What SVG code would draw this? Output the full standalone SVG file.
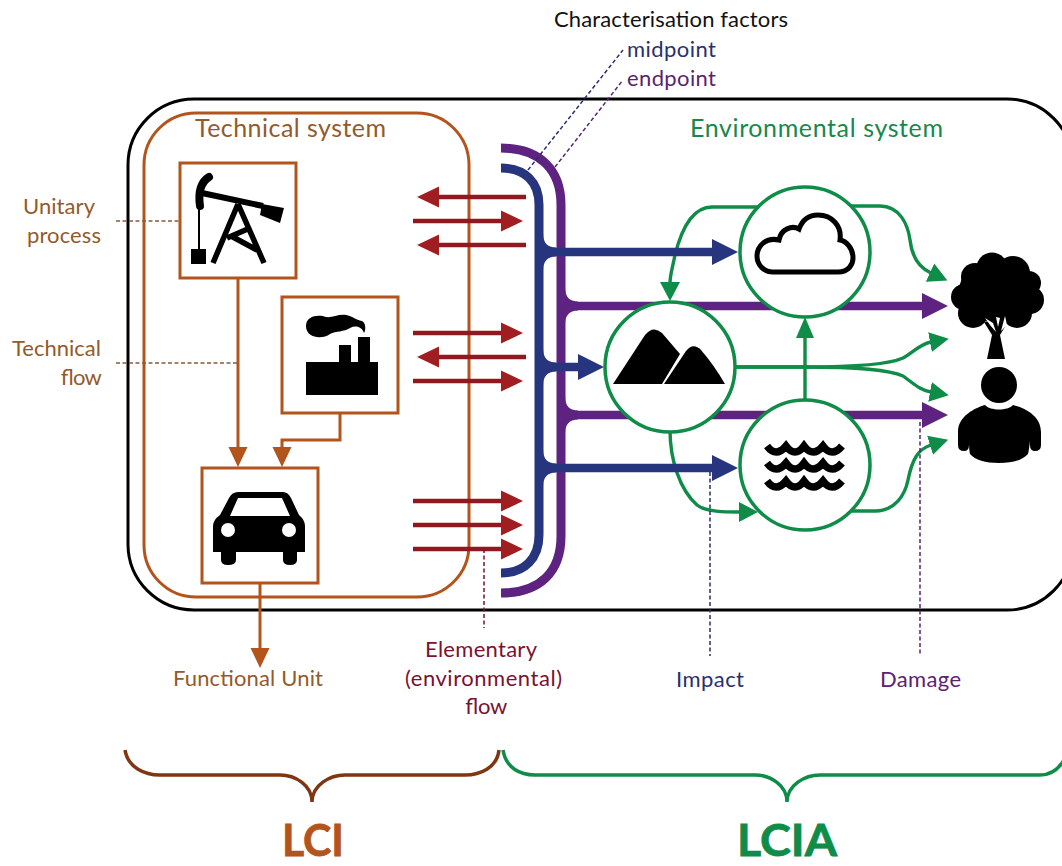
<svg xmlns="http://www.w3.org/2000/svg" xmlns:xlink="http://www.w3.org/1999/xlink" width="1062" height="866" viewBox="0 0 1062 866">
<style>
text{font-family:"Lato","Open Sans","Liberation Sans",sans-serif;font-size:22px}
.or{fill:none;stroke:#b4541d;stroke-width:3}
.box{fill:#fff;stroke:#b4541d;stroke-width:3}
.circ{fill:#fff;stroke:#0e8c48;stroke-width:3.5}
.g{fill:none;stroke:#0e8c48;stroke-width:3.4;marker-end:url(#mg)}
.r{fill:none;stroke:#8e1a20;stroke-width:4.5;marker-end:url(#mr)}
.b{fill:none;stroke:#27357f;stroke-width:8.5;marker-end:url(#mb)}
.p{fill:none;stroke:#5e2280;stroke-width:8.5;marker-end:url(#mp)}
.d{fill:none;stroke-width:1.5;stroke-dasharray:4 2.5}
.tb{fill:#935a2c}.tg{fill:#15894b}.tn{fill:#28306f}.tp{fill:#5a2370}.tr{fill:#7a1230}
</style>
<defs>
<marker id="mr" markerUnits="userSpaceOnUse" markerWidth="24" markerHeight="24" refX="1" refY="12" orient="auto"><path d="M0 1.5L22 12L0 22.5Z" fill="#a01d20"/></marker>
<marker id="mb" markerUnits="userSpaceOnUse" markerWidth="28" markerHeight="28" refX="1" refY="14" orient="auto"><path d="M0 1L26 14L0 27Z" fill="#27357f"/></marker>
<marker id="mp" markerUnits="userSpaceOnUse" markerWidth="28" markerHeight="28" refX="1" refY="14" orient="auto"><path d="M0 1L26 14L0 27Z" fill="#5e2280"/></marker>
<marker id="mg" markerUnits="userSpaceOnUse" markerWidth="22" markerHeight="22" refX="1" refY="11" orient="auto"><path d="M0 1L19 11L0 21Z" fill="#0e8c48"/></marker>
<marker id="mo" markerUnits="userSpaceOnUse" markerWidth="22" markerHeight="22" refX="1" refY="11" orient="auto"><path d="M0 1.5L20 11L0 20.5Z" fill="#b4541d"/></marker>
<path id="fil" d="M0 -19Q0 -4.5 13 -4.5V4.5Q0 4.5 0 19Z"/>
<path id="wave" d="M767 446Q776 458 786 446Q795 458 804 446Q813 458 823 446Q832 458 842 446" fill="none" stroke="#000" stroke-width="7.5"/>
</defs>
<rect width="1062" height="866" fill="#fff"/>
<g id="environmental-boundary">
<rect x="128" y="99" width="945" height="511" rx="66" fill="#fff" stroke="#000" stroke-width="3"/>
</g>
<g id="technical-system">
<rect class="or" x="144" y="113" width="325" height="484" rx="52"/>
<text x="195" y="137" class="tb" textLength="191" style="font-size:25px">Technical system</text>
</g>
<g id="connectors">
<path class="p" d="M561 306H923"/>
<path class="p" d="M561 415H923"/>
<path d="M501 148C540 148 561 170 561 205V536C561 572 540 593 501 593" fill="none" stroke="#5e2280" stroke-width="9"/>
<use xlink:href="#fil" x="565" y="306" fill="#5e2280"/>
<use xlink:href="#fil" x="565" y="415" fill="#5e2280"/>
<path class="g" d="M760 207H712C690 207 680 235 675 255C672 270 670 275 670 283"/>
<path class="g" d="M670 430C670 460 680 490 697 505C706 512 725 512 740 512"/>
<path d="M805 402V338" fill="none" stroke="#0e8c48" stroke-width="3.4"/>
<path d="M805 317L814 338H796Z" fill="#0e8c48"/>
<path class="g" d="M850 206H880C900 206 908 225 910 240C912 258 920 268 931 273"/>
<path class="g" d="M733 367H805C860 367 890 364 903 358C914 352 920 344 931 342"/>
<path class="g" d="M733 367H805C860 367 890 370 903 376C914 384 920 390 931 392"/>
<path class="g" d="M849 511H875C895 511 905 495 908 480C912 460 918 449 931 445"/>
<path d="M501 168C525 168 539 182 539 205V535C539 558 525 573 501 573" fill="none" stroke="#27357f" stroke-width="9"/>
<path class="b" d="M539 252H713"/>
<path class="b" d="M539 367H579"/>
<path class="b" d="M539 468H713"/>
<use xlink:href="#fil" x="543" y="252" fill="#27357f"/>
<use xlink:href="#fil" x="543" y="367" fill="#27357f"/>
<use xlink:href="#fil" x="543" y="468" fill="#27357f"/>
<path class="r" d="M526 197H438"/>
<path class="r" d="M413 221H502"/>
<path class="r" d="M526 245H438"/>
<path class="r" d="M413 333H502"/>
<path class="r" d="M526 357H438"/>
<path class="r" d="M413 381H502"/>
<path class="r" d="M413 501H502"/>
<path class="r" d="M413 525H502"/>
<path class="r" d="M413 549H502"/>
<path class="or" d="M238 278V448" style="marker-end:url(#mo)"/>
<path class="or" d="M340 413V440H282V448" style="marker-end:url(#mo)"/>
<path class="or" d="M260 583V649" style="marker-end:url(#mo)"/>
<path class="d" stroke="#8b5a3a" d="M116 221H180"/>
<path class="d" stroke="#8b5a3a" d="M116 363H238"/>
<path class="d" stroke="#27306f" d="M528 170L623 50"/>
<path class="d" stroke="#5a2370" d="M555 167L623 80"/>
<path class="d" stroke="#7a1230" d="M484 549V628"/>
<path class="d" stroke="#27306f" d="M710 472V656"/>
<path class="d" stroke="#5a2370" d="M920 422V656"/>
</g>
<g id="oil-pump">
<rect class="box" x="180" y="163" width="116" height="115"/>
<path d="M202 193L263 206" stroke="#000" stroke-width="6" fill="none"/>
<path d="M262 204L284 208L280 223L260 215Z"/>
<path d="M209 177C201 182 198 192 200 206" stroke="#000" stroke-width="8" fill="none" stroke-linecap="round"/>
<path d="M199 207V250" stroke="#000" stroke-width="2" fill="none"/>
<rect x="191" y="249" width="15" height="15"/>
<path d="M238 204L213 263M238 204L264 263M227 238L250 228M231 236L257 250" stroke="#000" stroke-width="5.5" fill="none"/>
</g>
<g id="factory">
<rect class="box" x="282" y="297" width="116" height="116"/>
<path d="M306 362H339V345H351V362H358V337H370V362H378V395H306Z"/>
<path d="M306 326C306 316 318 314 326 317C332 318 338 314 346 315C352 316 356 320 362 321C366 323 366 330 364 333C362 327 356 325 350 328C344 332 336 331 330 334C322 340 306 338 306 326Z"/>
</g>
<g id="car">
<rect class="box" x="202" y="468" width="116" height="115"/>
<path fill-rule="evenodd" d="M238 492H283Q288 492 291 498L299 515Q305 520 305 526V552H297V560Q297 565 290 565Q283 565 283 560V552H236V560Q236 565 228 565Q221 565 221 560V552H213V526Q213 520 220 515L229 498Q232 492 238 492ZM238 498L230 516H290L282 498Z"/>
<circle cx="228" cy="530" r="7" fill="#fff"/>
<circle cx="289" cy="530" r="7" fill="#fff"/>
</g>
<g id="cloud">
<circle class="circ" cx="805" cy="252" r="65"/>
<path d="M773 272H838C849 272 853 264 853 258C853 248 846 241 840 240C842 226 832 215 818 215C808 215 802 221 799 229C792 225 781 229 779 240C766 237 757 246 757 256C757 265 764 272 773 272Z" fill="#fff" stroke="#000" stroke-width="5"/>
</g>
<g id="mountain">
<circle class="circ" cx="670" cy="367" r="65"/>
<path d="M613 384L645 335Q653 325 662 333L680 354L662 384Z"/>
<path d="M664 384L686 351Q693 342 701 350Q714 365 725 384Z"/>
</g>
<g id="water">
<circle class="circ" cx="805" cy="465" r="65"/>
<use xlink:href="#wave"/>
<use xlink:href="#wave" y="17"/>
<use xlink:href="#wave" y="35"/>
</g>
<g id="tree">
<circle cx="992" cy="268" r="15.5"/><circle cx="1013" cy="273" r="17"/><circle cx="1029" cy="283" r="12"/><circle cx="1030" cy="300" r="14"/><circle cx="1017" cy="313" r="15"/><circle cx="964" cy="297" r="13"/><circle cx="973" cy="313" r="15"/><circle cx="975" cy="277" r="14"/><ellipse cx="997" cy="291" rx="38" ry="32"/>
<path d="M984 322L992 335L987 359H1005L1000 335L1008 322Z"/>
<path d="M985 318L993 323L996 332L990 325ZM996 317L1000 318L998 327ZM1005 316L1007 325L1001 331Z" fill="#fff"/>
</g>
<g id="person">
<circle cx="999" cy="385" r="18"/>
<path d="M958 445V432C958 416 975 408 985 405C990 411 1008 411 1013 405C1025 408 1041 416 1041 432V445Q1041 451 1035 451Q1030 451 1030 445V441Q1029 450 1028 454Q1020 463 999 463Q978 463 970 454Q969 450 969 441V445Q969 451 964 451Q958 451 958 445Z"/>
</g>
<g id="label-characterisation">
<text x="554" y="27" fill="#111" textLength="234">Characterisation factors</text>
<text x="627" y="57" class="tn" textLength="89">midpoint</text>
<text x="627" y="86" class="tp" textLength="89">endpoint</text>
</g>
<g id="label-environmental"><text x="690" y="137" class="tg" textLength="253" style="font-size:25px">Environmental system</text></g>
<g id="label-unitary">
<text x="23" y="214" class="tb" textLength="72">Unitary</text>
<text x="27" y="243" class="tb" textLength="74">process</text>
</g>
<g id="label-technical-flow">
<text x="12" y="356" class="tb" textLength="89">Technical</text>
<text x="60" y="385" class="tb" textLength="41">flow</text>
</g>
<g id="label-functional"><text x="173" y="686" class="tb" textLength="150">Functional Unit</text></g>
<g id="label-elementary">
<text x="425" y="657" class="tr" textLength="112">Elementary</text>
<text x="405" y="686" class="tr" textLength="157">(environmental)</text>
<text x="465" y="714" class="tr" textLength="42">flow</text>
</g>
<g id="label-impact"><text x="676" y="687" class="tn" textLength="68">Impact</text></g>
<g id="label-damage"><text x="880" y="687" class="tp" textLength="81">Damage</text></g>
<g id="brace-lci">
<path d="M125 750C128 768 145 775 160 775H280C295 775 312 785 312 802C312 785 330 775 345 775H465C480 775 497 768 499 750" fill="none" stroke="#7f3612" stroke-width="3.5"/>
<text x="282" y="856" textLength="62" lengthAdjust="spacingAndGlyphs" fill="#b4541d" stroke="#b4541d" stroke-width="0.8" style="font-size:44px;font-weight:700">LCI</text>
</g>
<g id="brace-lcia">
<path d="M503 750C506 768 520 775 535 775H755C770 775 787 785 787 802C787 785 805 775 820 775H1040C1050 775 1058 770 1064 760" fill="none" stroke="#0e8c48" stroke-width="3.5"/>
<text x="737" y="856" textLength="100" lengthAdjust="spacingAndGlyphs" fill="#0e8c48" stroke="#0e8c48" stroke-width="0.8" style="font-size:44px;font-weight:700">LCIA</text>
</g>
</svg>
